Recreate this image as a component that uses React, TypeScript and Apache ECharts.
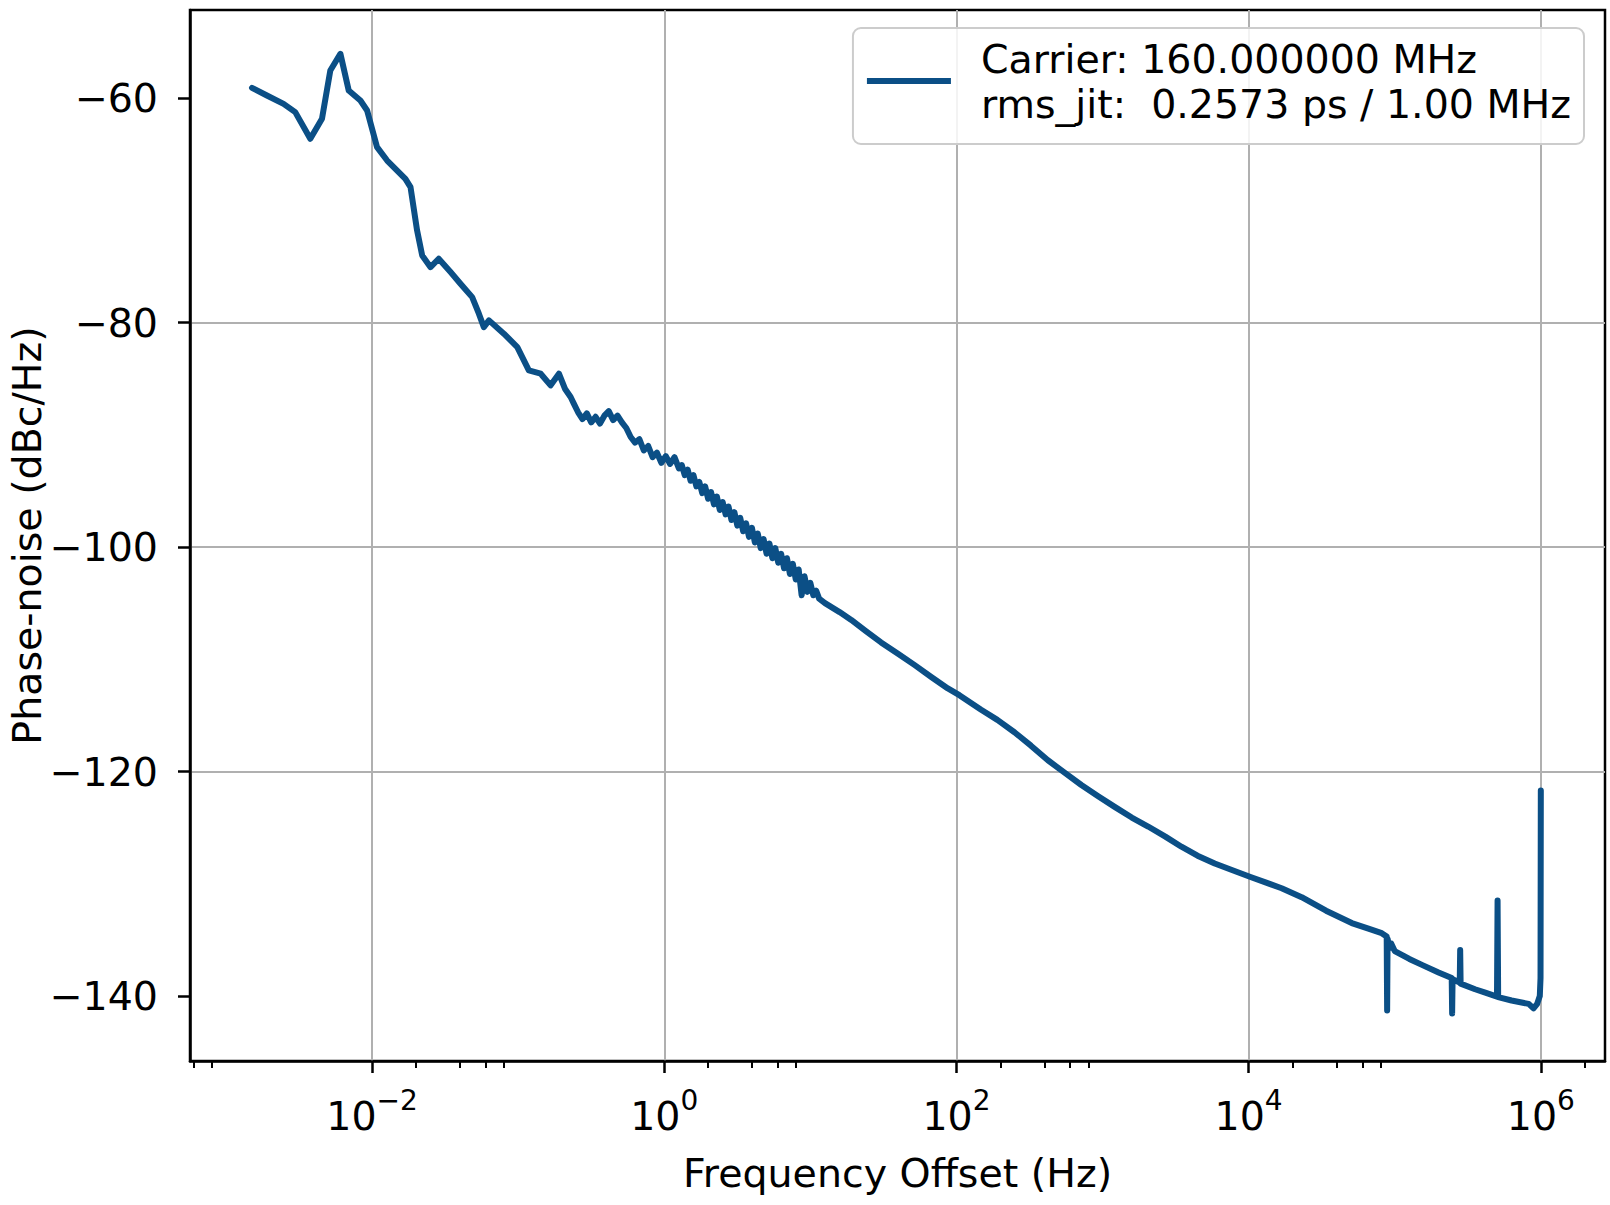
import React, { useEffect, useRef } from 'react';
import * as echarts from 'echarts';

const FONT = '"DejaVu Sans", "Liberation Sans", sans-serif';
const FS = 39.5;
const LINE_COLOR = '#0b4f86';

const seriesName = 'Carrier: 160.000000 MHz\nrms_jit:  0.2573 ps / 1.00 MHz';
const xAxisTitle = 'Frequency Offset (Hz)';
const yAxisTitle = 'Phase-noise (dBc/Hz)';

// axis ticks
const xMajorTicks = [0.01, 1, 100, 1e4, 1e6];
const xMinorTicks = [6e-4, 8e-4, 0.02, 0.04, 0.06, 0.08, 2, 4, 6, 8, 200, 400, 600, 800, 2e4, 4e4, 6e4, 8e4, 2e6];
const yTicks = [-140, -120, -100, -80, -60];
const xRange = [5.67e-4, 2.75e6];
const yRange = [-145.79, -52.16];

// log10 of the frequency offset (Hz)
const freqExponent = [
  -2.822, -2.72, -2.606, -2.526, -2.423, -2.343, -2.286, -2.217, -2.16, -2.08,
  -2.034, -1.966, -1.897, -1.772, -1.737, -1.692, -1.657, -1.6, -1.544, -1.463,
  -1.395, -1.315, -1.269, -1.235, -1.2, -1.098, -1.006, -0.927, -0.846, -0.778,
  -0.721, -0.68, -0.641,
  -0.62, -0.59, -0.56, -0.53, -0.5, -0.47, -0.44, -0.41, -0.38, -0.35,
  -0.32, -0.29, -0.26, -0.23, -0.2, -0.17, -0.14, -0.11, -0.08, -0.05,
  -0.02, 0.01, 0.04, 0.07, 0.1, 0.12, 0.14, 0.16, 0.18, 0.2,
  0.22, 0.24, 0.26, 0.28, 0.3, 0.32, 0.34, 0.36, 0.38, 0.4,
  0.42, 0.44, 0.46, 0.48, 0.5, 0.52, 0.54, 0.56, 0.58, 0.6,
  0.62, 0.64, 0.66, 0.68, 0.7, 0.72, 0.74, 0.76, 0.78, 0.8,
  0.82, 0.84, 0.86, 0.88, 0.9, 0.92, 0.94, 0.96, 0.98, 1.0,
  1.02, 1.04, 1.06, 1.1,
  1.2, 1.28, 1.38, 1.484, 1.6, 1.712, 1.83, 1.941, 2.02, 2.169,
  2.28, 2.397, 2.51, 2.626, 2.74, 2.855, 2.97, 3.083, 3.2, 3.312,
  3.43, 3.54, 3.65, 3.768, 3.89, 4.013, 4.12, 4.226, 4.363, 4.53,
  4.706, 4.82, 4.911, 4.945, 4.948, 4.951, 4.965, 4.975, 5.0, 5.1,
  5.19, 5.3, 5.39, 5.393, 5.396, 5.445, 5.448, 5.451, 5.55, 5.62,
  5.7, 5.704, 5.708, 5.8, 5.917, 5.95, 5.975, 5.993, 5.998, 6.0,
];

// phase noise (dBc/Hz)
const phaseNoise = [
  -59.09, -59.78, -60.52, -61.26, -63.63, -61.85, -57.55, -56.06, -59.33, -60.22,
  -61.11, -64.38, -65.57, -67.2, -67.94, -71.8, -74.03, -75.07, -74.32, -75.51,
  -76.55, -77.74, -79.22, -80.41, -79.81, -81.0, -82.19, -84.27, -84.56, -85.6,
  -84.56, -85.9, -86.64,
  -87.2, -88.0, -88.6, -88.1, -88.9, -88.4, -89.0, -88.3, -87.9, -88.7,
  -88.3, -88.9, -89.4, -90.2, -90.7, -90.4, -91.4, -91.0, -92.0, -91.6,
  -92.5, -91.9, -92.6, -92.0, -93.0, -92.7, -93.6, -93.1, -94.1, -93.6,
  -94.6, -94.2, -95.2, -94.6, -95.7, -95.1, -96.2, -95.5, -96.7, -96.0,
  -97.1, -96.4, -97.6, -96.9, -98.1, -97.4, -98.6, -97.9, -99.1, -98.3,
  -99.6, -98.8, -100.1, -99.3, -100.6, -99.7, -101.0, -100.1, -101.4, -100.6,
  -101.9, -101.0, -102.4, -101.5, -102.9, -102.0, -104.3, -102.6, -104.0, -103.2,
  -104.3, -103.9, -104.6, -105.0,
  -105.8, -106.5, -107.5, -108.5, -109.5, -110.5, -111.6, -112.6, -113.2, -114.5,
  -115.4, -116.5, -117.7, -119.0, -120.1, -121.2, -122.2, -123.15, -124.1, -124.9,
  -125.8, -126.7, -127.5, -128.2, -128.8, -129.4, -129.9, -130.4, -131.2, -132.4,
  -133.5, -134.0, -134.4, -134.7, -141.3, -134.9, -135.7, -135.3, -136.0, -136.7,
  -137.25, -137.9, -138.4, -141.55, -138.5, -138.8, -135.9, -138.9, -139.4, -139.7,
  -140.05, -131.5, -140.1, -140.4, -140.7, -141.1, -140.7, -140.0, -138.4, -121.7,
];

const minus = (v: number) => (v < 0 ? '\u2212' + Math.abs(v) : String(v));

export default function App() {
  const ref = useRef<HTMLDivElement>(null);

  useEffect(() => {
    document.body.style.margin = '0';
    if (!ref.current) return;
    const chart = echarts.init(ref.current, undefined, { renderer: 'svg' });
    const data = freqExponent.map((e, i) => [Math.pow(10, e), phaseNoise[i]]);

    chart.setOption({
      animation: false,
      backgroundColor: '#ffffff',
      grid: {
        left: 190,
        top: 10,
        right: 5,
        bottom: 144,
        outerBoundsMode: 'none',
        containLabel: false,
        show: true,
        borderColor: '#000',
        borderWidth: 2.5,
        backgroundColor: 'transparent',
      },
      legend: {
        show: true,
        right: 26,
        top: 28,
        orient: 'vertical',
        padding: [8, 13, 18, 14],
        backgroundColor: 'rgba(255,255,255,0.85)',
        borderColor: '#cccccc',
        borderWidth: 2,
        borderRadius: 8,
        itemWidth: 84,
        itemHeight: 6,
        icon: 'rect',
        selectedMode: false,
        textStyle: {
          fontFamily: FONT,
          fontSize: FS,
          color: '#000',
          lineHeight: 45,
          padding: [0, 0, 0, 25],
        },
        data: [{ name: seriesName, icon: 'rect' }],
      },
      xAxis: [
        {
          type: 'log',
          logBase: 10,
          min: xRange[0],
          max: xRange[1],
          position: 'bottom',
          z: 2,
          name: xAxisTitle,
          nameLocation: 'middle',
          nameGap: 92,
          nameTextStyle: { fontFamily: FONT, fontSize: FS, color: '#000' },
          axisLine: { show: true, lineStyle: { color: '#000', width: 2.5 } },
          axisTick: {
            show: true,
            inside: false,
            length: 12,
            customValues: xMajorTicks,
            lineStyle: { color: '#000', width: 2.5 },
          },
          axisLabel: {
            show: true,
            margin: 25,
            customValues: xMajorTicks,
            formatter: (v: number) => {
              const e = Math.round(Math.log10(v));
              return '{b|10}{s|' + minus(e) + '}';
            },
            rich: {
              b: { fontFamily: FONT, fontSize: FS, color: '#000', lineHeight: 50, verticalAlign: 'bottom' },
              s: { fontFamily: FONT, fontSize: 28, color: '#000', lineHeight: 22, verticalAlign: 'top' },
            },
          },
          splitLine: { show: false },
          minorTick: { show: false },
        },
        {
          type: 'log',
          logBase: 10,
          min: xRange[0],
          max: xRange[1],
          position: 'bottom',
          z: 2,
          axisLine: { show: false },
          axisLabel: { show: false },
          splitLine: { show: false },
          axisTick: {
            show: true,
            inside: false,
            length: 7,
            customValues: xMinorTicks,
            lineStyle: { color: '#000', width: 2 },
          },
        },
      ],
      yAxis: {
        type: 'value',
        min: yRange[0],
        max: yRange[1],
        splitNumber: 5,
        z: 2,
        name: yAxisTitle,
        nameLocation: 'middle',
        nameGap: 143,
        nameMoveOverlap: false,
        nameTextStyle: { fontFamily: FONT, fontSize: FS, color: '#000' },
        axisLine: { show: true, lineStyle: { color: '#000', width: 2.5 } },
        axisTick: {
          show: true,
          inside: false,
          length: 12,
          customValues: yTicks,
          lineStyle: { color: '#000', width: 2.5 },
        },
        axisLabel: {
          show: true,
          margin: 32,
          customValues: yTicks,
          formatter: (v: number) => minus(v),
          fontFamily: FONT,
          fontSize: FS,
          color: '#000',
        },
        splitLine: {
          show: true,
          showMinLine: false,
          showMaxLine: false,
          lineStyle: { color: '#b0b0b0', width: 2 },
        },
      },
      series: [
        {
          name: seriesName,
          type: 'line',
          xAxisIndex: 0,
          yAxisIndex: 0,
          data,
          showSymbol: false,
          symbol: 'none',
          z: 3,
          lineStyle: { color: LINE_COLOR, width: 6, join: 'round', cap: 'round' },
          itemStyle: { color: LINE_COLOR },
          emphasis: { disabled: true },
          markLine: {
            silent: true,
            z: 1,
            symbol: ['none', 'none'],
            label: { show: false },
            emphasis: { disabled: true },
            lineStyle: { color: '#b0b0b0', width: 2, type: 'solid' },
            data: xMajorTicks.map((v) => ({ xAxis: v })),
          },
        },
      ],
    });

    return () => chart.dispose();
  }, []);

  return <div ref={ref} style={{ width: 1610, height: 1205 }} />;
}
